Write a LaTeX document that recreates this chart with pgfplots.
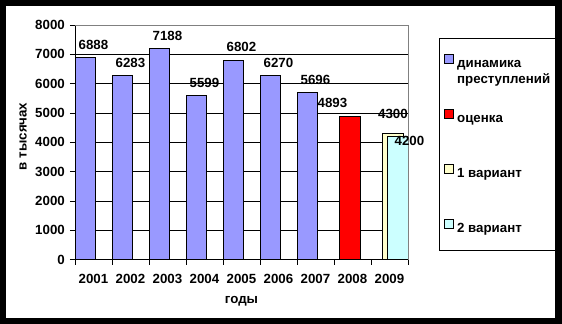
\documentclass[border=0pt]{standalone}
\usepackage{pgfplots}
\pgfplotsset{compat=1.18}
\usepackage{fontspec}
\setmainfont{Liberation Sans}
\definecolor{cA}{HTML}{9999FF}
\definecolor{cB}{HTML}{FF0000}
\definecolor{cC}{HTML}{FFFFCC}
\definecolor{cD}{HTML}{CCFFFF}
\newcommand{\chartfont}{\fontsize{13.3bp}{16bp}\selectfont\bfseries}
\begin{document}
\begin{tikzpicture}
\fill[black] (0bp,0bp) rectangle (562bp,324bp);
\fill[white] (6bp,5.5bp) rectangle (555.3bp,318bp);
\begin{axis}[
  at={(75bp,64.5bp)}, anchor=south west,
  scale only axis, width=333bp, height=234.5bp,
  xmin=-0.5, xmax=8.5, ymin=0, ymax=8000,
  enlargelimits=false, clip=false,
  axis x line*=bottom, axis y line*=left,
  axis line style={black, line width=0.75bp, -},
  ymajorgrids, grid style={black, line width=0.75bp},
  ytick={0,1000,...,8000},
  xtick={-0.5,0.5,1.5,2.5,3.5,4.5,5.5,6.5,7.5,8.5},
  xticklabels={2001,2002,2003,2004,2005,2006,2007,2008,2009,{}},
  xticklabel style={anchor=center, xshift=18.5bp, yshift=-14.5bp},
  yticklabel style={anchor=east, inner sep=0pt, xshift=-5bp},
  tick align=outside, major tick length=5bp,
  tick style={black, line width=0.75bp},
  font=\chartfont,
  /pgf/number format/1000 sep={},
  /pgf/number format/assume math mode=true,
  xlabel={годы}, ylabel={в тысячах},
  every axis x label/.style={at={(axis description cs:0.5,-0.18)}, anchor=center},
  every axis y label/.style={at={(axis description cs:-0.156,0.525)}, anchor=center, rotate=90},
  legend style={at={(axis description cs:1.0931,0.9446)}, anchor=north west,
    draw=black, line width=0.75bp, inner xsep=5bp, inner ysep=16bp,
    row sep=40.3bp, nodes={inner sep=0pt}, cells={anchor=west}, font=\chartfont},
  legend image code/.code={\draw[#1, line width=0.75bp] (0bp,-0.5bp) rectangle (8.5bp,8bp); \path (12bp,0bp);},
  nodes near coords style={anchor=base, inner sep=0pt, font=\chartfont, text=black},
]
\addplot[ybar, bar width=0.55, bar shift=-0.216, fill=cA, draw=black, line width=0.75bp,
  nodes near coords, nodes near coords style={yshift=8.3bp}]
  coordinates {(0,6888) (1,6283) (2,7188) (3,5599) (4,6802) (5,6270) (6,5696)};
\addlegendentry{\strut\smash{\vtop{\hbox{динамика}\hbox{преступлений}}}}
\addplot[ybar, bar width=0.55, bar shift=-0.068, fill=cB, draw=black, line width=0.75bp,
  nodes near coords, nodes near coords style={yshift=8.3bp, xshift=-20bp}]
  coordinates {(7,4893)};
\addlegendentry{\strut оценка}
\addplot[ybar, bar width=0.55, bar shift=0.095, fill=cC, draw=black, line width=0.75bp,
  nodes near coords, nodes near coords style={yshift=14.7bp, xshift=3.5bp}]
  coordinates {(8,4300)};
\addlegendentry{\strut 1 вариант}
\addplot[ybar, bar width=0.55, bar shift=0.23, fill=cD, draw=black, line width=0.75bp,
  nodes near coords, nodes near coords style={yshift=-9.4bp, xshift=20bp}]
  coordinates {(8,4200)};
\addlegendentry{\rule[-19bp]{0pt}{30.2bp}2 вариант}
\draw[gray, line width=0.75bp] (rel axis cs:0,1) -- (rel axis cs:1,1) -- (rel axis cs:1,0);
\end{axis}
\end{tikzpicture}
\end{document}
